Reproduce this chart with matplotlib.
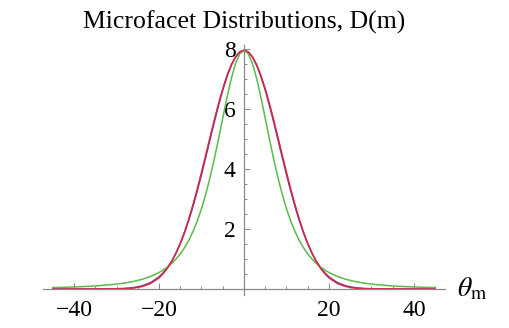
import numpy as np
import matplotlib
matplotlib.use('Agg')
import matplotlib.pyplot as plt
from matplotlib.ticker import MultipleLocator, FixedLocator

# half-vector angle theta_m in degrees
theta_m = [-45, -40, -35, -30, -28, -26, -24, -22,
           -20, -19, -18, -17, -16, -15, -14, -13, -12, -11,
           -10, -9, -8, -7, -6, -5, -4, -3, -2, -1,
           0,
           1, 2, 3, 4, 5, 6, 7, 8, 9, 10,
           11, 12, 13, 14, 15, 16, 17, 18, 19, 20,
           22, 24, 26, 28, 30, 35, 40, 45]

# D(m) for the three microfacet models
beckmann = [0.000, 0.000, 0.000, 0.003, 0.011, 0.032, 0.080, 0.182,
            0.372, 0.514, 0.695, 0.920, 1.193, 1.519, 1.898, 2.329, 2.810, 3.333,
            3.889, 4.466, 5.050, 5.625, 6.172, 6.673, 7.111, 7.471, 7.738, 7.902,
            7.958,
            7.902, 7.738, 7.471, 7.111, 6.673, 6.172, 5.625, 5.050, 4.466, 3.889,
            3.333, 2.810, 2.329, 1.898, 1.519, 1.193, 0.920, 0.695, 0.514, 0.372,
            0.182, 0.080, 0.032, 0.011, 0.003, 0.000, 0.000, 0.000]

phong = [0.000, 0.000, 0.001, 0.008, 0.020, 0.047, 0.104, 0.211,
         0.402, 0.541, 0.716, 0.932, 1.195, 1.507, 1.871, 2.288, 2.756, 3.268,
         3.816, 4.391, 4.976, 5.557, 6.113, 6.627, 7.079, 7.451, 7.728, 7.900,
         7.958,
         7.900, 7.728, 7.451, 7.079, 6.627, 6.113, 5.557, 4.976, 4.391, 3.816,
         3.268, 2.756, 2.288, 1.871, 1.507, 1.195, 0.932, 0.716, 0.541, 0.402,
         0.211, 0.104, 0.047, 0.020, 0.008, 0.001, 0.000, 0.000]

ggx = [0.047, 0.067, 0.101, 0.162, 0.201, 0.253, 0.322, 0.417,
       0.549, 0.634, 0.734, 0.855, 0.998, 1.170, 1.376, 1.623, 1.917, 2.266,
       2.678, 3.158, 3.708, 4.325, 4.995, 5.693, 6.380, 7.006, 7.512, 7.843,
       7.958,
       7.843, 7.512, 7.006, 6.380, 5.693, 4.995, 4.325, 3.708, 3.158, 2.678,
       2.266, 1.917, 1.623, 1.376, 1.170, 0.998, 0.855, 0.734, 0.634, 0.549,
       0.417, 0.322, 0.253, 0.201, 0.162, 0.101, 0.067, 0.047]

x_major = [-40, -20, 20, 40]
y_major = [2, 4, 6, 8]

plt.rcParams['font.family'] = ['Liberation Serif', 'DejaVu Serif']
plt.rcParams['mathtext.fontset'] = 'stix'

fig = plt.figure(figsize=(5.1, 3.28), dpi=100)
ax = fig.add_axes([0.0843, 0.1006, 0.7882, 0.7637])

ax.plot(theta_m, phong, color='#6a3cb0', lw=1.1)
ax.plot(theta_m, ggx, color='#5bbb48', lw=1.1)
ax.plot(theta_m, beckmann, color='#d8283c', lw=1.1)

ax.set_xlim(-47.3, 47.3)
ax.set_ylim(-0.2, 8.15)

# axes through the origin, Mathematica style
for s in ['top', 'right']:
    ax.spines[s].set_visible(False)
ax.spines['left'].set_position(('data', 0))
ax.spines['bottom'].set_position(('data', 0))
for s in ['left', 'bottom']:
    ax.spines[s].set_color('#8a8a8a')
    ax.spines[s].set_linewidth(0.9)

ax.xaxis.set_major_locator(FixedLocator(x_major))
ax.xaxis.set_minor_locator(MultipleLocator(5))
ax.yaxis.set_major_locator(FixedLocator(y_major))
ax.yaxis.set_minor_locator(MultipleLocator(0.5))

ax.tick_params(which='both', direction='in', color='#8a8a8a', width=0.7)
ax.tick_params(which='major', length=4, labelsize=17)
ax.tick_params(which='minor', length=2.2)
ax.tick_params(axis='x', which='major', pad=8)
ax.tick_params(axis='y', which='major', pad=6)

fig.text(244 / 510, 1 - 22 / 328, 'Microfacet Distributions, D(m)',
         ha='center', va='center', fontsize=18.5)
fig.text(457 / 510, 1 - 289 / 328, r'$\theta_{\rm m}$',
         ha='left', va='center', fontsize=20)

fig.savefig('out.png', dpi=100)
